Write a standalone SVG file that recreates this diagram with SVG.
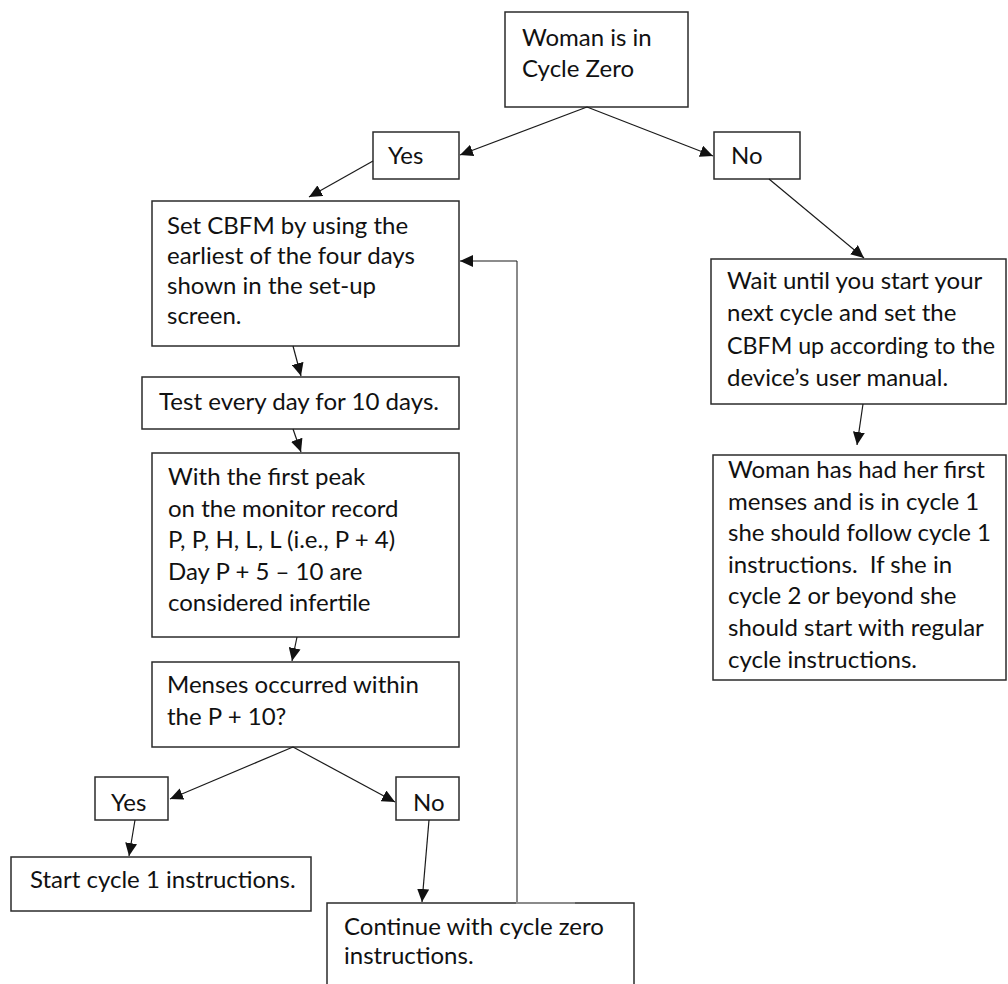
<svg xmlns="http://www.w3.org/2000/svg" width="1008" height="984" viewBox="0 0 1008 984">
  <style>
    .box { fill: #ffffff; stroke: #2b2b2b; stroke-width: 1.5; }
    .t { font-family: "Lato", "Liberation Sans", sans-serif; font-size: 24px; fill: #111111; }
    .pre { white-space: pre; }
    .edge { fill: none; stroke: #1a1a1a; stroke-width: 1.2; marker-end: url(#arrow); }
    .loop { fill: none; stroke: #8a8a8a; stroke-width: 2; }
  </style>
  <defs>
    <marker id="arrow" markerUnits="userSpaceOnUse" markerWidth="14" markerHeight="12" viewBox="0 0 14 12" refX="13" refY="6" orient="auto">
      <path d="M0,0 L13,6 L0,12 Z" fill="#111111"/>
    </marker>
  </defs>
  <rect width="1008" height="984" fill="#ffffff"/>

  <g id="start-cycle-zero">
    <rect class="box" x="505" y="12" width="183" height="95"/>
    <text class="t" x="522" y="46">Woman is in</text>
    <text class="t" x="522" y="77">Cycle Zero</text>
  </g>
  <g id="yes-top">
    <rect class="box" x="373" y="132" width="86" height="47"/>
    <text class="t" x="388" y="164">Yes</text>
  </g>
  <g id="no-top">
    <rect class="box" x="714" y="132" width="86" height="47"/>
    <text class="t" x="731" y="164">No</text>
  </g>
  <g id="set-cbfm">
    <rect class="box" x="152" y="201" width="307" height="145"/>
    <text class="t" x="167" y="234">Set CBFM by using the</text>
    <text class="t" x="167" y="264">earliest of the four days</text>
    <text class="t" x="167" y="294">shown in the set-up</text>
    <text class="t" x="167" y="324">screen.</text>
  </g>
  <g id="test-daily">
    <rect class="box" x="142" y="377" width="317" height="52"/>
    <text class="t" x="159" y="410" textLength="280" lengthAdjust="spacingAndGlyphs">Test every day for 10 days.</text>
  </g>
  <g id="first-peak">
    <rect class="box" x="152" y="453" width="307" height="184"/>
    <text class="t" x="168" y="485">With the first peak</text>
    <text class="t" x="168" y="517">on the monitor record</text>
    <text class="t" x="168" y="548">P, P, H, L, L (i.e., P + 4)</text>
    <text class="t" x="168" y="580">Day P + 5 – 10 are</text>
    <text class="t" x="168" y="611">considered infertile</text>
  </g>
  <g id="menses-question">
    <rect class="box" x="152" y="662" width="307" height="85"/>
    <text class="t" x="167" y="693">Menses occurred within</text>
    <text class="t" x="167" y="725">the P + 10?</text>
  </g>
  <g id="yes-bottom">
    <rect class="box" x="95" y="777" width="73" height="43"/>
    <text class="t" x="111" y="811">Yes</text>
  </g>
  <g id="no-bottom">
    <rect class="box" x="396" y="777" width="63" height="43"/>
    <text class="t" x="413" y="811">No</text>
  </g>
  <g id="start-cycle-one">
    <rect class="box" x="11" y="857" width="300" height="54"/>
    <text class="t" x="30" y="888">Start cycle 1 instructions.</text>
  </g>
  <g id="continue-cycle-zero">
    <rect class="box" x="327" y="903" width="307" height="90"/>
    <text class="t" x="344" y="935">Continue with cycle zero</text>
    <text class="t" x="344" y="964">instructions.</text>
  </g>
  <g id="wait-next-cycle">
    <rect class="box" x="711" y="259" width="295" height="145"/>
    <text class="t" x="727" y="289">Wait until you start your</text>
    <text class="t" x="727" y="321">next cycle and set the</text>
    <text class="t" x="727" y="354" textLength="268" lengthAdjust="spacingAndGlyphs">CBFM up according to the</text>
    <text class="t" x="727" y="386">device’s user manual.</text>
  </g>
  <g id="first-menses">
    <rect class="box" x="713" y="455" width="293" height="225"/>
    <text class="t" x="728" y="478">Woman has had her first</text>
    <text class="t" x="728" y="510">menses and is in cycle 1</text>
    <text class="t" x="728" y="541">she should follow cycle 1</text>
    <text class="t pre" x="728" y="573">instructions.  If she in</text>
    <text class="t" x="728" y="604">cycle 2 or beyond she</text>
    <text class="t" x="728" y="636">should start with regular</text>
    <text class="t" x="728" y="668">cycle instructions.</text>
  </g>

  <g id="connectors">
    <path class="edge" d="M587,107 L460,155"/>
    <path class="edge" d="M587,107 L713,156"/>
    <path class="edge" d="M373,161 L309,197"/>
    <path class="edge" d="M293,346 L301,376"/>
    <path class="edge" d="M293,429 L301,452"/>
    <path class="edge" d="M297,637 L292,661"/>
    <path class="edge" d="M293,747 L170,799"/>
    <path class="edge" d="M293,747 L395,802"/>
    <path class="edge" d="M135,820 L129,856"/>
    <path class="edge" d="M429,820 L422,902"/>
    <path class="edge" d="M769,179 L864,258"/>
    <path class="edge" d="M863,404 L857,445"/>
    <path class="loop" d="M575,903 H517 V261"/>
    <path class="edge" d="M517,261 H460"/>
  </g>
</svg>
